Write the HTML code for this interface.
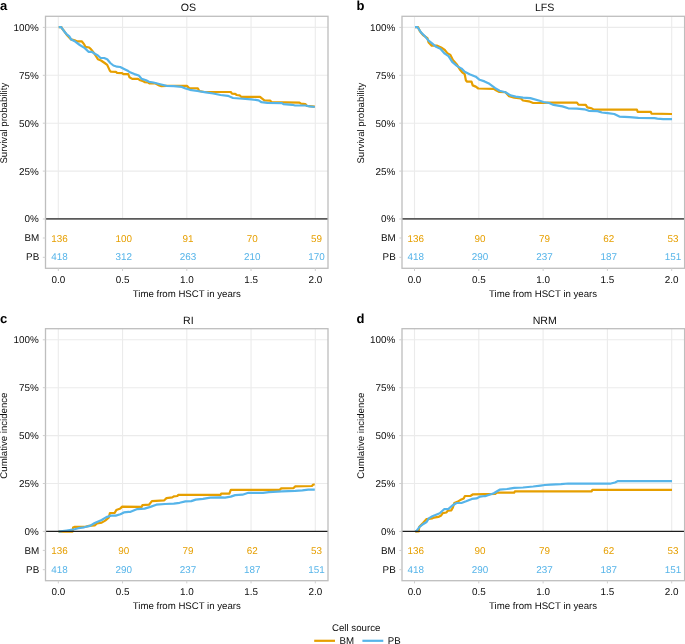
<!DOCTYPE html><html><head><meta charset="utf-8"><style>html,body{margin:0;padding:0;background:#fff;}svg{display:block;will-change:transform;}text{font-family:"Liberation Sans", sans-serif;text-rendering:geometricPrecision;}</style></head><body>
<svg width="685" height="644" viewBox="0 0 685 644">
<rect width="685" height="644" fill="#fff"/>
<g stroke="#ebebeb" stroke-width="1.1"><line x1="58.3" y1="16.3" x2="58.3" y2="219"/><line x1="122.55" y1="16.3" x2="122.55" y2="219"/><line x1="186.8" y1="16.3" x2="186.8" y2="219"/><line x1="251.05" y1="16.3" x2="251.05" y2="219"/><line x1="315.3" y1="16.3" x2="315.3" y2="219"/><line x1="45.5" y1="171.1" x2="328" y2="171.1"/><line x1="45.5" y1="123.2" x2="328" y2="123.2"/><line x1="45.5" y1="75.3" x2="328" y2="75.3"/><line x1="45.5" y1="27.4" x2="328" y2="27.4"/></g>
<path d="M58.7 27.2 L61.5 27.2 L62 28.5 L64.3 31.3 L66.8 35 L71.1 39.4 L75.5 40.6 L76.7 41.3 L81.7 41.3 L84.2 44.4 L85.4 46.8 L89.2 47.5 L91 49.3 L93.5 52.4 L96 56.2 L97.9 59.3 L101 60.5 L104.7 63 L107.2 64.9 L109.7 70.4 L110.9 71.7 L115.9 71.9 L117.1 72.9 L122.1 73.2 L123.3 74.2 L128.3 74.2 L129.5 77.3 L132.2 78.9 L138 78.9 L140.2 80.3 L143.1 81.1 L144.6 82.1 L148.2 82.5 L149.7 83.5 L155.5 83.5 L159.2 85.4 L161.4 86.2 L166.5 85.9 L186.9 85.9 L189.1 88.1 L197.9 88.4 L199.3 91 L204.5 92 L230.8 92 L232 93.6 L235.2 93.9 L236.7 95 L239.6 95.3 L241.1 96.8 L260 96.8 L262.2 98.7 L264.4 100.4 L270.3 100.7 L271.7 102.2 L299.5 102.6 L300.9 103.6 L305.3 104.1 L306.8 105.8 L314.8 106.6" fill="none" stroke="#E69F00" stroke-width="2.2" stroke-linejoin="round"/>
<path d="M58.7 27.2 L61.2 27.2 L63.7 30.7 L66.2 33.8 L69.3 36.3 L71.1 39.4 L74.9 41.3 L79.8 45 L84.8 48.1 L88.5 51.8 L91.6 51.8 L94.8 53.7 L97.9 55.5 L100.3 57.8 L104.1 58 L107.2 59.3 L110.3 63 L113.4 65.5 L117.1 66.7 L120.2 67 L124.6 69.2 L128.3 71.1 L130 72.3 L134.4 74.1 L138.8 75.5 L141.7 78.9 L146.1 80.3 L149 81.8 L153.4 82.5 L159.2 84 L166.5 85.9 L173.8 86.2 L181.8 86.9 L185.5 88.4 L189.9 89.8 L197.2 91 L205.9 92.4 L213.2 93.5 L220.5 95 L227.9 95.8 L233 98 L239.6 98.5 L251.3 99.3 L258.6 100.4 L261.5 102.2 L267.3 102.9 L281.9 103.1 L283.4 104.1 L292.2 104.8 L295.1 105.5 L305.3 105.5 L309.7 106.3 L314.8 107" fill="none" stroke="#56B4E9" stroke-width="2.2" stroke-linejoin="round"/>
<line x1="45.5" y1="218.8" x2="328" y2="218.8" stroke="#5a5a5a" stroke-width="1.8"/>
<rect x="45.5" y="16.3" width="282.5" height="252" fill="none" stroke="#bebebe" stroke-width="1.3"/>
<g stroke="#cfcfcf" stroke-width="1"><line x1="42.8" y1="219" x2="45.5" y2="219"/><line x1="42.8" y1="171.1" x2="45.5" y2="171.1"/><line x1="42.8" y1="123.2" x2="45.5" y2="123.2"/><line x1="42.8" y1="75.3" x2="45.5" y2="75.3"/><line x1="42.8" y1="27.4" x2="45.5" y2="27.4"/><line x1="42.8" y1="238" x2="45.5" y2="238"/><line x1="42.8" y1="257.3" x2="45.5" y2="257.3"/><line x1="58.3" y1="268.3" x2="58.3" y2="271"/><line x1="122.55" y1="268.3" x2="122.55" y2="271"/><line x1="186.8" y1="268.3" x2="186.8" y2="271"/><line x1="251.05" y1="268.3" x2="251.05" y2="271"/><line x1="315.3" y1="268.3" x2="315.3" y2="271"/></g>
<g font-size="9.9" fill="#0d0d0d"><text x="38.7" y="222.4" text-anchor="end">0%</text><text x="38.7" y="174.5" text-anchor="end">25%</text><text x="38.7" y="126.6" text-anchor="end">50%</text><text x="38.7" y="78.7" text-anchor="end">75%</text><text x="38.7" y="30.8" text-anchor="end">100%</text><text x="39.3" y="241.4" text-anchor="end">BM</text><text x="39.3" y="260.4" text-anchor="end">PB</text><text x="58.3" y="282.6" text-anchor="middle">0.0</text><text x="122.55" y="282.6" text-anchor="middle">0.5</text><text x="186.8" y="282.6" text-anchor="middle">1.0</text><text x="251.05" y="282.6" text-anchor="middle">1.5</text><text x="315.3" y="282.6" text-anchor="middle">2.0</text></g>
<g font-size="9.9" text-anchor="middle"><text x="59.6" y="241.6" fill="#E69F00">136</text><text x="123.85" y="241.6" fill="#E69F00">100</text><text x="188.1" y="241.6" fill="#E69F00">91</text><text x="252.35" y="241.6" fill="#E69F00">70</text><text x="316.6" y="241.6" fill="#E69F00">59</text><text x="59.6" y="260.4" fill="#56B4E9">418</text><text x="123.85" y="260.4" fill="#56B4E9">312</text><text x="188.1" y="260.4" fill="#56B4E9">263</text><text x="252.35" y="260.4" fill="#56B4E9">210</text><text x="316.6" y="260.4" fill="#56B4E9">170</text></g>
<text x="188.4" y="11.3" font-size="10.6" text-anchor="middle" fill="#0d0d0d">OS</text>
<text x="186.8" y="297" font-size="9.65" text-anchor="middle" fill="#0d0d0d">Time from HSCT in years</text>
<text transform="translate(7.1 123.2) rotate(-90)" font-size="9.65" text-anchor="middle" fill="#0d0d0d">Survival probability</text>
<text x="0" y="9.8" font-size="13" font-weight="bold" fill="#000">a</text>
<g stroke="#ebebeb" stroke-width="1.1"><line x1="414.5" y1="16.3" x2="414.5" y2="219"/><line x1="478.8" y1="16.3" x2="478.8" y2="219"/><line x1="543.1" y1="16.3" x2="543.1" y2="219"/><line x1="607.4" y1="16.3" x2="607.4" y2="219"/><line x1="671.7" y1="16.3" x2="671.7" y2="219"/><line x1="402" y1="171.1" x2="684.6" y2="171.1"/><line x1="402" y1="123.2" x2="684.6" y2="123.2"/><line x1="402" y1="75.3" x2="684.6" y2="75.3"/><line x1="402" y1="27.4" x2="684.6" y2="27.4"/></g>
<path d="M415 27.2 L418.1 27.2 L419.9 31.3 L423 35 L427.4 38.1 L428.6 42.5 L431.7 45.6 L436.7 45.6 L441.1 47.5 L444.8 50 L447.3 53.1 L450.4 54.9 L452.9 59.9 L456.6 64.2 L459.7 69.2 L462.2 72.3 L464.7 74.2 L465.9 80.4 L467.1 81.6 L471.5 81.6 L472.7 85.4 L475.8 86.6 L478.3 88.5 L493.8 88.9 L496 90.3 L498.9 91.8 L505.4 92.2 L509.1 96.2 L514.2 97.6 L520.8 98.4 L523 100.5 L528.8 101.3 L533.2 103 L543.4 103 L547.8 102.7 L577 102.7 L578.4 104.6 L585.8 104.9 L587.3 107.4 L591.7 108.4 L593.9 109.6 L636.9 109.6 L637.7 111.8 L650.8 111.8 L651.5 113.7 L672 114" fill="none" stroke="#E69F00" stroke-width="2.2" stroke-linejoin="round"/>
<path d="M415 27.2 L417.5 27.2 L421.2 32.6 L424.9 36.3 L428.6 40.6 L432.4 43.7 L436.1 46.8 L440.4 48.7 L444.8 53.7 L448.5 56.2 L452.2 61.8 L457.2 66.1 L461.6 68.6 L464.7 71.7 L469.6 74.2 L475.8 76.7 L479.6 79.8 L484.5 81.4 L489.4 83.8 L495.2 88.1 L499.6 90.8 L505.4 92.2 L510.5 95.4 L515.7 96.6 L523 97.6 L530.3 98.1 L540.5 101 L543.4 102 L549.2 103 L553.6 104.9 L562.4 106.4 L568.2 108.3 L577 108.6 L584.4 109.3 L588.8 110.8 L597.5 111.1 L601.9 112.5 L607.7 113.2 L614.3 114 L619.4 116.6 L629.6 117.2 L638.4 117.9 L654.5 118.1 L657.4 118.6 L663.2 119.1 L672 119.1" fill="none" stroke="#56B4E9" stroke-width="2.2" stroke-linejoin="round"/>
<line x1="402" y1="218.8" x2="684.6" y2="218.8" stroke="#5a5a5a" stroke-width="1.8"/>
<rect x="402" y="16.3" width="282.6" height="252" fill="none" stroke="#bebebe" stroke-width="1.3"/>
<g stroke="#cfcfcf" stroke-width="1"><line x1="399.3" y1="219" x2="402" y2="219"/><line x1="399.3" y1="171.1" x2="402" y2="171.1"/><line x1="399.3" y1="123.2" x2="402" y2="123.2"/><line x1="399.3" y1="75.3" x2="402" y2="75.3"/><line x1="399.3" y1="27.4" x2="402" y2="27.4"/><line x1="399.3" y1="238" x2="402" y2="238"/><line x1="399.3" y1="257.3" x2="402" y2="257.3"/><line x1="414.5" y1="268.3" x2="414.5" y2="271"/><line x1="478.8" y1="268.3" x2="478.8" y2="271"/><line x1="543.1" y1="268.3" x2="543.1" y2="271"/><line x1="607.4" y1="268.3" x2="607.4" y2="271"/><line x1="671.7" y1="268.3" x2="671.7" y2="271"/></g>
<g font-size="9.9" fill="#0d0d0d"><text x="395.2" y="222.4" text-anchor="end">0%</text><text x="395.2" y="174.5" text-anchor="end">25%</text><text x="395.2" y="126.6" text-anchor="end">50%</text><text x="395.2" y="78.7" text-anchor="end">75%</text><text x="395.2" y="30.8" text-anchor="end">100%</text><text x="395.8" y="241.4" text-anchor="end">BM</text><text x="395.8" y="260.4" text-anchor="end">PB</text><text x="414.5" y="282.6" text-anchor="middle">0.0</text><text x="478.8" y="282.6" text-anchor="middle">0.5</text><text x="543.1" y="282.6" text-anchor="middle">1.0</text><text x="607.4" y="282.6" text-anchor="middle">1.5</text><text x="671.7" y="282.6" text-anchor="middle">2.0</text></g>
<g font-size="9.9" text-anchor="middle"><text x="415.8" y="241.6" fill="#E69F00">136</text><text x="480.1" y="241.6" fill="#E69F00">90</text><text x="544.4" y="241.6" fill="#E69F00">79</text><text x="608.7" y="241.6" fill="#E69F00">62</text><text x="673" y="241.6" fill="#E69F00">53</text><text x="415.8" y="260.4" fill="#56B4E9">418</text><text x="480.1" y="260.4" fill="#56B4E9">290</text><text x="544.4" y="260.4" fill="#56B4E9">237</text><text x="608.7" y="260.4" fill="#56B4E9">187</text><text x="673" y="260.4" fill="#56B4E9">151</text></g>
<text x="544.7" y="11.3" font-size="10.6" text-anchor="middle" fill="#0d0d0d">LFS</text>
<text x="543.1" y="297" font-size="9.65" text-anchor="middle" fill="#0d0d0d">Time from HSCT in years</text>
<text transform="translate(364.3 123.2) rotate(-90)" font-size="9.65" text-anchor="middle" fill="#0d0d0d">Survival probability</text>
<text x="356.5" y="9.8" font-size="13" font-weight="bold" fill="#000">b</text>
<g stroke="#ebebeb" stroke-width="1.1"><line x1="58.3" y1="328.7" x2="58.3" y2="531.4"/><line x1="122.55" y1="328.7" x2="122.55" y2="531.4"/><line x1="186.8" y1="328.7" x2="186.8" y2="531.4"/><line x1="251.05" y1="328.7" x2="251.05" y2="531.4"/><line x1="315.3" y1="328.7" x2="315.3" y2="531.4"/><line x1="45.5" y1="483.5" x2="328" y2="483.5"/><line x1="45.5" y1="435.6" x2="328" y2="435.6"/><line x1="45.5" y1="387.7" x2="328" y2="387.7"/><line x1="45.5" y1="339.8" x2="328" y2="339.8"/></g>
<path d="M58.5 531.7 L72.5 531.7 L73.1 527.6 L74.9 526.8 L85.4 526.8 L88.9 525.9 L94.7 525.3 L97 523.3 L101.7 522.6 L105.2 520.6 L108.7 517.7 L109.9 513 L114.6 513 L116.3 510.1 L120.4 508.4 L122.2 506.6 L141.7 506.9 L142.4 505.1 L149 504.7 L151.9 501.1 L164.3 500.3 L166.5 498.1 L172.3 497.4 L173.8 496.4 L177.4 496 L178.2 494.9 L220.5 494.9 L221.2 493.5 L229.4 493.7 L230.8 489.9 L279.7 489.9 L281.2 488.4 L293.6 488.1 L295.1 486.4 L311.9 486 L313.3 484.5 L314.8 484.5" fill="none" stroke="#E69F00" stroke-width="2.2" stroke-linejoin="round"/>
<path d="M58.5 531.7 L66.7 530.5 L72.5 529.7 L78.4 528.2 L84.2 527.3 L90 525.9 L94.7 523 L101.7 520 L106.4 517.1 L111.1 515.6 L115.7 515.6 L120.4 514.2 L123.9 512.4 L128.6 511.9 L130 512 L137.3 509.1 L144.6 508.6 L150.4 506.9 L156.3 504.7 L165 504 L173.8 503.7 L179.6 502.8 L185.5 501.4 L191.3 501.1 L195.7 499.6 L203 498.9 L210.3 497.7 L220.5 497.4 L225 497.6 L230.8 496.6 L235.2 495.1 L242.5 494.7 L248.4 492.8 L263 492.8 L268.8 492.2 L281.9 491.4 L295.1 490.8 L302.4 490.3 L308.2 489.6 L314.8 489.6" fill="none" stroke="#56B4E9" stroke-width="2.2" stroke-linejoin="round"/>
<line x1="45.5" y1="531.35" x2="328" y2="531.35" stroke="#1c1c1c" stroke-width="1.2"/>
<rect x="45.5" y="328.7" width="282.5" height="252" fill="none" stroke="#bebebe" stroke-width="1.3"/>
<g stroke="#cfcfcf" stroke-width="1"><line x1="42.8" y1="531.4" x2="45.5" y2="531.4"/><line x1="42.8" y1="483.5" x2="45.5" y2="483.5"/><line x1="42.8" y1="435.6" x2="45.5" y2="435.6"/><line x1="42.8" y1="387.7" x2="45.5" y2="387.7"/><line x1="42.8" y1="339.8" x2="45.5" y2="339.8"/><line x1="42.8" y1="550.4" x2="45.5" y2="550.4"/><line x1="42.8" y1="569.7" x2="45.5" y2="569.7"/><line x1="58.3" y1="580.7" x2="58.3" y2="583.4"/><line x1="122.55" y1="580.7" x2="122.55" y2="583.4"/><line x1="186.8" y1="580.7" x2="186.8" y2="583.4"/><line x1="251.05" y1="580.7" x2="251.05" y2="583.4"/><line x1="315.3" y1="580.7" x2="315.3" y2="583.4"/></g>
<g font-size="9.9" fill="#0d0d0d"><text x="38.7" y="534.8" text-anchor="end">0%</text><text x="38.7" y="486.9" text-anchor="end">25%</text><text x="38.7" y="439" text-anchor="end">50%</text><text x="38.7" y="391.1" text-anchor="end">75%</text><text x="38.7" y="343.2" text-anchor="end">100%</text><text x="39.3" y="553.8" text-anchor="end">BM</text><text x="39.3" y="572.8" text-anchor="end">PB</text><text x="58.3" y="595" text-anchor="middle">0.0</text><text x="122.55" y="595" text-anchor="middle">0.5</text><text x="186.8" y="595" text-anchor="middle">1.0</text><text x="251.05" y="595" text-anchor="middle">1.5</text><text x="315.3" y="595" text-anchor="middle">2.0</text></g>
<g font-size="9.9" text-anchor="middle"><text x="59.6" y="554" fill="#E69F00">136</text><text x="123.85" y="554" fill="#E69F00">90</text><text x="188.1" y="554" fill="#E69F00">79</text><text x="252.35" y="554" fill="#E69F00">62</text><text x="316.6" y="554" fill="#E69F00">53</text><text x="59.6" y="572.8" fill="#56B4E9">418</text><text x="123.85" y="572.8" fill="#56B4E9">290</text><text x="188.1" y="572.8" fill="#56B4E9">237</text><text x="252.35" y="572.8" fill="#56B4E9">187</text><text x="316.6" y="572.8" fill="#56B4E9">151</text></g>
<text x="188.4" y="323.7" font-size="10.6" text-anchor="middle" fill="#0d0d0d">RI</text>
<text x="186.8" y="609.4" font-size="9.65" text-anchor="middle" fill="#0d0d0d">Time from HSCT in years</text>
<text transform="translate(7.1 435.6) rotate(-90)" font-size="9.65" text-anchor="middle" fill="#0d0d0d">Cumlative incidence</text>
<text x="0" y="323.3" font-size="13" font-weight="bold" fill="#000">c</text>
<g stroke="#ebebeb" stroke-width="1.1"><line x1="414.5" y1="328.7" x2="414.5" y2="531.4"/><line x1="478.8" y1="328.7" x2="478.8" y2="531.4"/><line x1="543.1" y1="328.7" x2="543.1" y2="531.4"/><line x1="607.4" y1="328.7" x2="607.4" y2="531.4"/><line x1="671.7" y1="328.7" x2="671.7" y2="531.4"/><line x1="402" y1="483.5" x2="684.6" y2="483.5"/><line x1="402" y1="435.6" x2="684.6" y2="435.6"/><line x1="402" y1="387.7" x2="684.6" y2="387.7"/><line x1="402" y1="339.8" x2="684.6" y2="339.8"/></g>
<path d="M415.3 531.6 L418.6 531.5 L419.3 526.8 L423 523.1 L426.6 519.1 L432.4 518.4 L433.9 517.6 L438.3 516.9 L441.2 515.4 L442.7 513.2 L446.3 512.5 L447.8 510.7 L451.4 510.3 L452.9 507.4 L454.3 503 L457.3 501.9 L460.2 500.1 L463.7 498.4 L464.9 496 L470.7 495.8 L473.1 494.3 L495.5 493.8 L496.7 492.6 L514.2 492.6 L514.9 491.4 L591.7 491.3 L592.4 489.8 L672 489.8" fill="none" stroke="#E69F00" stroke-width="2.2" stroke-linejoin="round"/>
<path d="M415.3 531.6 L416.4 531.1 L419.3 527.1 L423 524.2 L426.6 522 L428.8 518.4 L432.4 516.2 L436.1 514.7 L439.7 513.2 L444.1 509.2 L448.5 508.9 L452.9 505.2 L456.5 503 L461.4 503 L466.1 501.3 L471.9 498.9 L476.6 498.4 L480.1 496.6 L484.7 496 L485 496.2 L493.8 493.3 L499.6 489.7 L506.9 489 L514.2 487.9 L523 487.5 L533.2 486.5 L540.5 485.6 L544.9 485 L550.7 484.6 L560.9 484.1 L568.2 483.5 L609.9 483.7 L615 482.5 L618 481.1 L672 481.1" fill="none" stroke="#56B4E9" stroke-width="2.2" stroke-linejoin="round"/>
<line x1="402" y1="531.35" x2="684.6" y2="531.35" stroke="#1c1c1c" stroke-width="1.2"/>
<rect x="402" y="328.7" width="282.6" height="252" fill="none" stroke="#bebebe" stroke-width="1.3"/>
<g stroke="#cfcfcf" stroke-width="1"><line x1="399.3" y1="531.4" x2="402" y2="531.4"/><line x1="399.3" y1="483.5" x2="402" y2="483.5"/><line x1="399.3" y1="435.6" x2="402" y2="435.6"/><line x1="399.3" y1="387.7" x2="402" y2="387.7"/><line x1="399.3" y1="339.8" x2="402" y2="339.8"/><line x1="399.3" y1="550.4" x2="402" y2="550.4"/><line x1="399.3" y1="569.7" x2="402" y2="569.7"/><line x1="414.5" y1="580.7" x2="414.5" y2="583.4"/><line x1="478.8" y1="580.7" x2="478.8" y2="583.4"/><line x1="543.1" y1="580.7" x2="543.1" y2="583.4"/><line x1="607.4" y1="580.7" x2="607.4" y2="583.4"/><line x1="671.7" y1="580.7" x2="671.7" y2="583.4"/></g>
<g font-size="9.9" fill="#0d0d0d"><text x="395.2" y="534.8" text-anchor="end">0%</text><text x="395.2" y="486.9" text-anchor="end">25%</text><text x="395.2" y="439" text-anchor="end">50%</text><text x="395.2" y="391.1" text-anchor="end">75%</text><text x="395.2" y="343.2" text-anchor="end">100%</text><text x="395.8" y="553.8" text-anchor="end">BM</text><text x="395.8" y="572.8" text-anchor="end">PB</text><text x="414.5" y="595" text-anchor="middle">0.0</text><text x="478.8" y="595" text-anchor="middle">0.5</text><text x="543.1" y="595" text-anchor="middle">1.0</text><text x="607.4" y="595" text-anchor="middle">1.5</text><text x="671.7" y="595" text-anchor="middle">2.0</text></g>
<g font-size="9.9" text-anchor="middle"><text x="415.8" y="554" fill="#E69F00">136</text><text x="480.1" y="554" fill="#E69F00">90</text><text x="544.4" y="554" fill="#E69F00">79</text><text x="608.7" y="554" fill="#E69F00">62</text><text x="673" y="554" fill="#E69F00">53</text><text x="415.8" y="572.8" fill="#56B4E9">418</text><text x="480.1" y="572.8" fill="#56B4E9">290</text><text x="544.4" y="572.8" fill="#56B4E9">237</text><text x="608.7" y="572.8" fill="#56B4E9">187</text><text x="673" y="572.8" fill="#56B4E9">151</text></g>
<text x="544.7" y="323.7" font-size="10.6" text-anchor="middle" fill="#0d0d0d">NRM</text>
<text x="543.1" y="609.4" font-size="9.65" text-anchor="middle" fill="#0d0d0d">Time from HSCT in years</text>
<text transform="translate(364.3 435.6) rotate(-90)" font-size="9.65" text-anchor="middle" fill="#0d0d0d">Cumlative incidence</text>
<text x="356.5" y="323.3" font-size="13" font-weight="bold" fill="#000">d</text>
<text x="356.2" y="631" font-size="9.7" text-anchor="middle" fill="#0d0d0d">Cell source</text>
<line x1="314.2" y1="640.8" x2="335" y2="640.8" stroke="#E69F00" stroke-width="2.2"/>
<line x1="362.4" y1="640.8" x2="383.3" y2="640.8" stroke="#56B4E9" stroke-width="2.2"/>
<text x="339.6" y="644.3" font-size="9.7" fill="#0d0d0d">BM</text>
<text x="387.7" y="644.3" font-size="9.7" fill="#0d0d0d">PB</text>
</svg></body></html>
